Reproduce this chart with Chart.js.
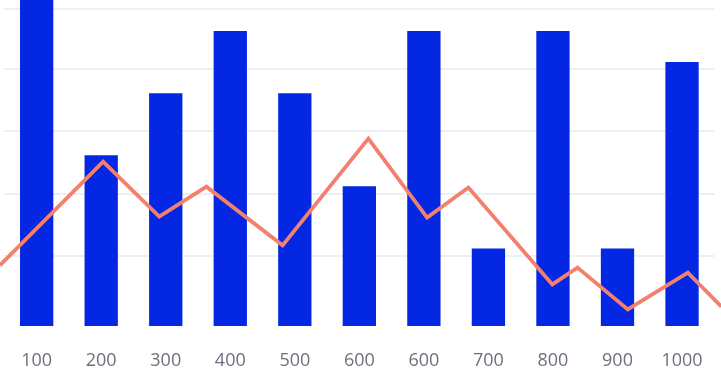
<!DOCTYPE html>
<html>
<head>
<meta charset="utf-8">
<script src="https://cdn.jsdelivr.net/npm/chart.js@4/dist/chart.umd.min.js"></script>
<style>
  html, body { margin: 0; padding: 0; background: #ffffff; }
  #wrap { width: 721px; height: 374px; position: relative; }
</style>
</head>
<body>
<div id="wrap"><canvas id="c"></canvas></div>
<script>
// Categories (x tick labels)
const categories = ['100', '200', '300', '400', '500', '600', '600', '700', '800', '900', '1000'];
// Bar series values
const barValues = [11, 6, 8, 10, 8, 5, 10, 3, 10, 3, 9];
// Line series: x positions (in category-index units) and values
const lineX = [-0.57, 1.03, 1.90, 2.63, 3.81, 5.14, 6.05, 6.69, 7.99, 8.38, 9.16, 10.09, 10.61];
const lineY = [17, 50.2, 32.6, 42.2, 23.4, 57.6, 32.3, 41.9, 10.9, 16.3, 2.9, 14.7, 3.8];
// Grid values on the line's axis
const gridValues = [20, 40, 60, 80, 99.1];

const linePoints = lineX.map((x, i) => ({ x: x, y: lineY[i] }));
const barPoints = barValues.map((v, i) => ({ x: i, y: v }));

new Chart(document.getElementById('c'), {
  type: 'line',
  data: {
    datasets: [
      {
        type: 'line',
        data: linePoints,
        yAxisID: 'yl',
        borderColor: '#F3806F',
        backgroundColor: '#F3806F',
        borderWidth: 3.8,
        pointRadius: 0,
        tension: 0,
        fill: false,
        clip: false,
        order: 0
      },
      {
        type: 'bar',
        data: barPoints,
        yAxisID: 'y',
        backgroundColor: '#0327E2',
        borderWidth: 0,
        barPercentage: 0.645,
        categoryPercentage: 0.8,
        order: 1
      }
    ]
  },
  options: {
    responsive: true,
    maintainAspectRatio: false,
    animation: false,
    layout: { padding: { left: 4.4, right: 6.7, top: 0, bottom: 0 } },
    plugins: { legend: { display: false }, tooltip: { enabled: false } },
    scales: {
      x: {
        type: 'linear',
        min: -0.5,
        max: 10.5,
        offset: false,
        afterBuildTicks: (axis) => { axis.ticks = categories.map((c, i) => ({ value: i })); },
        afterFit: (axis) => { axis.height = 48; axis.paddingLeft = 0; axis.paddingRight = 0; },
        grid: { display: false, drawTicks: false },
        border: { display: false },
        ticks: {
          color: '#6B707B',
          padding: 23.7,
          autoSkip: false,
          maxRotation: 0,
          font: { family: 'Open Sans', size: 18 },
          callback: (v, i) => categories[i]
        }
      },
      y: {
        type: 'linear',
        min: 0.5,
        max: 11,
        display: false
      },
      yl: {
        type: 'linear',
        position: 'left',
        min: -2.4,
        max: 101.92,
        afterBuildTicks: (axis) => { axis.ticks = gridValues.map(v => ({ value: v })); },
        afterFit: (axis) => { axis.width = 0; },
        grid: { color: '#ECF0F3', lineWidth: 2, drawTicks: false },
        border: { display: false },
        ticks: { display: false }
      }
    }
  }
});
</script>
</body>
</html>
